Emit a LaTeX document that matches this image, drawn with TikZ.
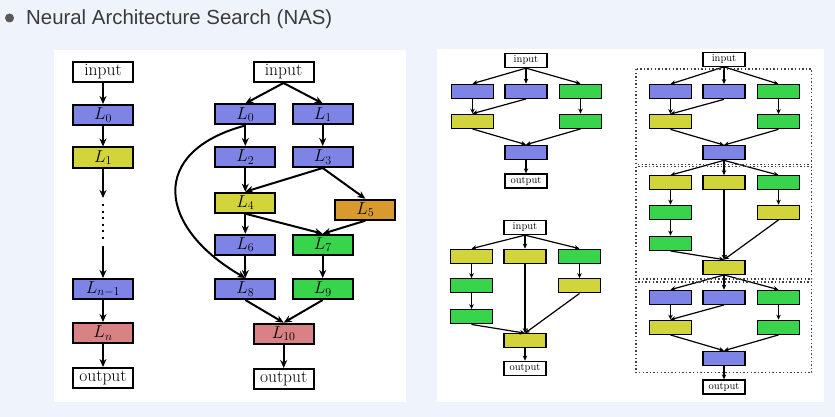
\documentclass[tikz,border=0pt]{standalone}
\usepackage{fontspec}
\newfontfamily\titlefont{Liberation Sans}
\usetikzlibrary{arrows.meta,positioning,calc}

\definecolor{pagebg}{HTML}{EEF3FC}
\definecolor{layblue}{HTML}{7D84E6}
\definecolor{layyellow}{HTML}{D2D43C}
\definecolor{laygreen}{HTML}{38D44C}
\definecolor{layorange}{HTML}{D89A2C}
\definecolor{layred}{HTML}{D88285}
\definecolor{titlegray}{HTML}{3B3B3B}

\tikzset{
  layer/.style={draw, line width=2pt, minimum width=60pt, minimum height=20pt, inner sep=0pt, font=\fontsize{17.5}{17.5}\selectfont},
  op/.style={draw, line width=1.3pt, minimum width=42pt, minimum height=14pt, inner sep=0pt, font=\fontsize{10.5}{10.5}\selectfont},
  flow/.style={line width=2pt, -{Stealth[length=8pt,width=7pt]}},
  link/.style={line width=1.2pt, -{Stealth[length=5pt,width=4.5pt]}},
  frame/.style={line width=1.2pt, black!75, dash pattern=on 1.4pt off 2.2pt},
}

% normal cell: #1 prefix, #2 input node, #3 x, #4 y of first row
\newcommand{\normalcell}[4]{
  \begin{scope}[shift={(#3,#4)}]
    \node[op, fill=layblue]   (#1a) at (-53.5,0) {};
    \node[op, fill=layblue]   (#1b) at (0,0) {};
    \node[op, fill=laygreen]  (#1c) at (54.5,0) {};
    \node[op, fill=layyellow] (#1d) at (-53.5,30) {};
    \node[op, fill=laygreen]  (#1e) at (54.5,30) {};
    \node[op, fill=layblue]   (#1out) at (0,61) {};
  \end{scope}
  \foreach \n in {a,b,c} \draw[link] (#2.south) -- (#1\n.north);
  \draw[link] (#1a) -- (#1d);
  \draw[link] (#1b.south) -- (#1d.north);
  \draw[link] (#1c) -- (#1e);
  \draw[link] (#1d.south) -- (#1out.north);
  \draw[link] (#1e.south) -- (#1out.north);
}

% reduction cell: same arguments
\newcommand{\reductioncell}[4]{
  \begin{scope}[shift={(#3,#4)}]
    \node[op, fill=layyellow] (#1a) at (-53.5,0) {};
    \node[op, fill=layyellow] (#1b) at (0,0) {};
    \node[op, fill=laygreen]  (#1c) at (54.5,0) {};
    \node[op, fill=laygreen]  (#1d) at (-53.5,29.5) {};
    \node[op, fill=layyellow] (#1e) at (54.5,29.5) {};
    \node[op, fill=laygreen]  (#1f) at (-53.5,60.5) {};
    \node[op, fill=layyellow] (#1out) at (0,84.5) {};
  \end{scope}
  \foreach \n in {a,b,c} \draw[link] (#2.south) -- (#1\n.north);
  \draw[link] (#1a) -- (#1d);
  \draw[link] (#1d) -- (#1f);
  \draw[link] (#1b) -- (#1out);
  \draw[link] (#1c) -- (#1e);
  \draw[link] (#1e.south) -- (#1out.north);
  \draw[link] (#1f.south) -- (#1out.north);
}

\begin{document}
\begin{tikzpicture}[x=1pt, y=-1pt]

  % page
  \useasboundingbox (0,0) rectangle (835,417);
  \fill[pagebg] (0,0) rectangle (835,417);
  \fill[white] (54,50) rectangle (406,402);
  \fill[white] (437,49) rectangle (824,402);

  % title
  \fill[black!65] (9.5,18) circle (4.5pt);
  \node[font=\titlefont\fontsize{20.4}{24}\selectfont, text=titlegray, anchor=base west, inner sep=0pt] (title) at (26,24.3) {Neural Architecture Search (NAS)};

  % chain network
  \node[layer] (cin) at (103,72) {input};
  \node[layer, fill=layblue] (c0) at (103,115) {$L_0$};
  \node[layer, fill=layyellow] (c1) at (103,157.5) {$L_1$};
  \coordinate (c1end) at (103,198);
  \coordinate (cdotstop) at (103,204);
  \coordinate (cdotsbot) at (103,240);
  \coordinate (cnstart) at (103,246);
  \node[layer, fill=layblue] (cn1) at (103,289) {$L_{n-1}$};
  \node[layer, fill=layred] (cn) at (103,333) {$L_n$};
  \node[layer] (cout) at (103,378) {output};

  \draw[flow] (cin) -- (c0);
  \draw[flow] (c0) -- (c1);
  \draw[flow] (c1) -- (c1end);
  \draw[line width=2.2pt, dash pattern=on 2.2pt off 4.3pt] (cdotstop) -- (cdotsbot);
  \draw[flow] (cnstart) -- (cn1);
  \draw[flow] (cn1) -- (cn);
  \draw[flow] (cn) -- (cout);

  % multi-branch network
  \node[layer] (min) at (283.5,72) {input};
  \node[layer, fill=layblue] (m0) at (245.3,114.5) {$L_0$};
  \node[layer, fill=layblue] (m1) at (322.7,114.5) {$L_1$};
  \node[layer, fill=layblue] (m2) at (245.3,157) {$L_2$};
  \node[layer, fill=layblue] (m3) at (322.7,157) {$L_3$};
  \node[layer, fill=layyellow] (m4) at (245.3,202.7) {$L_4$};
  \node[layer, fill=layorange] (m5) at (365.3,209.7) {$L_5$};
  \node[layer, fill=layblue] (m6) at (245.3,244.7) {$L_6$};
  \node[layer, fill=laygreen] (m7) at (322.7,244.7) {$L_7$};
  \node[layer, fill=layblue] (m8) at (245.3,289) {$L_8$};
  \node[layer, fill=laygreen] (m9) at (322.7,289) {$L_9$};
  \node[layer, fill=layred] (m10) at (283.7,333.7) {$L_{10}$};
  \node[layer] (mout) at (283.7,379) {output};

  \draw[flow] (min.south) -- (m0.north);
  \draw[flow] (min.south) -- (m1.north);
  \draw[flow] (m0) -- (m2);
  \draw[flow] (m1) -- (m3);
  \draw[flow] (m2) -- (m4);
  \draw[flow] (m3.south) -- (m4.north);
  \draw[flow] (m3.south) -- (m5.north);
  \draw[flow] (m4) -- (m6);
  \draw[flow] (m4.south) -- (m7.north);
  \draw[flow] (m5.south) -- (m7.north);
  \draw[flow] (m6) -- (m8);
  \draw[flow] (m7) -- (m9);
  \draw[flow] (m8.south) -- (m10.north);
  \draw[flow] (m9.south) -- (m10.north);
  \draw[flow] (m10) -- (mout);
  \draw[flow] (m0.south) to[out=195, in=150, looseness=1.7] (m8.north);

  % normal cell
  \node[op] (inA) at (526,60.5) {input};
  \normalcell{na}{inA}{526}{91.3}
  \node[op] (outA) at (526,181) {output};
  \draw[link] (naout) -- (outA);

  % reduction cell
  \node[op] (inB) at (525,227.5) {input};
  \reductioncell{rb}{inB}{525}{256.3}
  \node[op] (outB) at (525,368.3) {output};
  \draw[link] (rbout) -- (outB);

  % stacked cells
  \node[op] (inC) at (724,59.2) {input};
  \normalcell{nc}{inC}{724}{91.7}
  \reductioncell{rc}{ncout}{724}{182.8}
  \normalcell{nd}{rcout}{724}{297.3}
  \node[op] (outC) at (724,387) {output};
  \draw[link] (ndout) -- (outC);

  \draw[frame] (636,69) rectangle (811.7,164.3);
  \draw[frame] (636,166.7) rectangle (811.7,279);
  \draw[frame] (636,282) rectangle (811.7,372.7);

\end{tikzpicture}
\end{document}
